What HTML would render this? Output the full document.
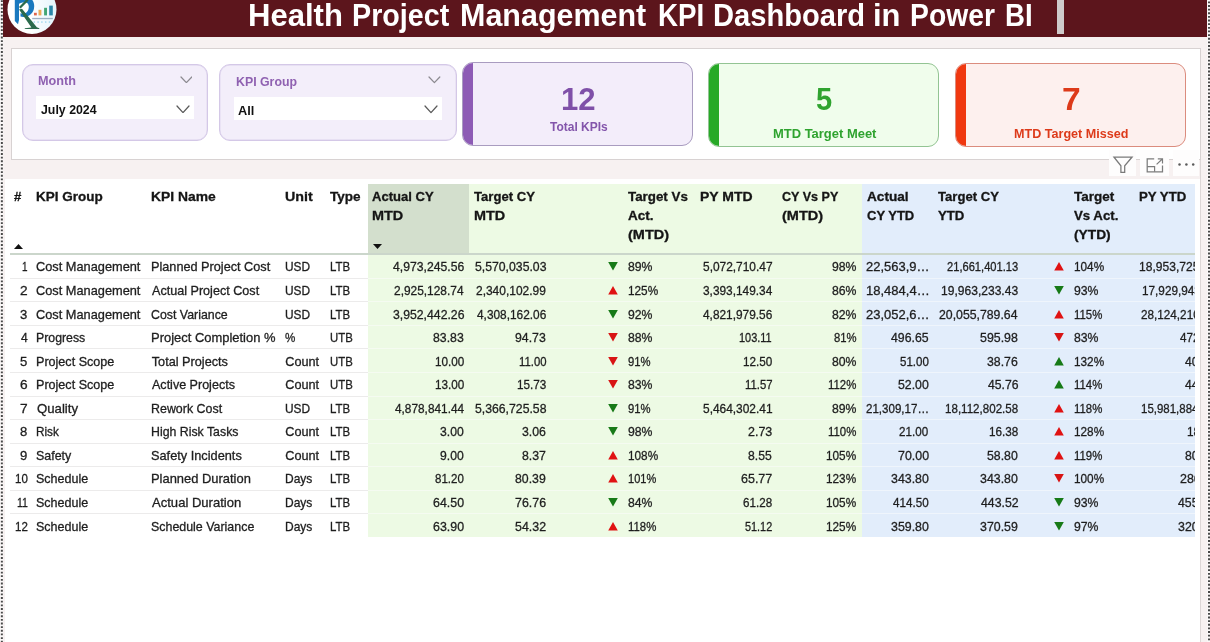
<!DOCTYPE html>
<html lang="en"><head><meta charset="utf-8"><title>Health Project Management KPI Dashboard in Power BI</title>
<style>
html,body{margin:0;padding:0;}
body{width:1210px;height:642px;overflow:hidden;background:#f7f1f1;position:relative;font-family:"Liberation Sans",Arial,sans-serif;color:#222;}
.abs{position:absolute;}
.f{position:absolute;white-space:nowrap;line-height:60px;height:60px;transform-origin:0 50%;}
#hdr{left:3px;top:0;width:1204.4px;height:37.4px;background:#5c151c;}
#caret{left:1057px;top:0;width:7px;height:33.5px;background:#cfcbcb;}
#panel{left:11px;top:48px;width:1189.5px;height:111.5px;background:#fff;border:1px solid #d8d2d2;box-sizing:border-box;}
.slicer{background:#f3eefa;border:1px solid #d4c8e7;box-shadow:inset 0 0 0 .4px #dcd2ec;border-radius:11px;box-sizing:border-box;}
.slicer .inp{position:absolute;background:#fff;}
.card{box-sizing:border-box;border-radius:11px;overflow:hidden;}
.card .bar{position:absolute;left:0;top:0;bottom:0;width:10px;}
#tbl{left:5px;top:179px;width:1195px;height:463px;background:#fff;}
.td{position:absolute;font-size:12.7px;line-height:20px;height:20px;color:#1e1e1e;white-space:nowrap;-webkit-text-stroke:.3px #1e1e1e;}
.hl{position:absolute;left:10px;width:1185px;height:1px;background:#f0eeee;}
</style></head><body>

<svg class="abs" style="left:0;top:0" width="1210" height="642" viewBox="0 0 1210 642"><rect x="0" y="0" width="3.2" height="642" fill="#fbf8f8"/><rect x="1207.4" y="0" width="2.6" height="642" fill="#fbf8f8"/><line x1="1.85" y1="0.15" x2="1.85" y2="642" stroke="#484848" stroke-width="2" stroke-dasharray="1.85 1.79"/><line x1="1209" y1="1.4" x2="1209" y2="642" stroke="#484848" stroke-width="2" stroke-dasharray="1.85 1.79"/></svg>
<div id="hdr" class="abs"></div>
<svg class="abs" style="left:0;top:0" width="70" height="40" viewBox="0 0 70 40">
<defs><linearGradient id="lg" x1="0" y1="0" x2="1" y2="0"><stop offset="0.45" stop-color="#ffffff"/><stop offset="1" stop-color="#e4f4fb"/></linearGradient>
<clipPath id="lc"><circle cx="32" cy="9.4" r="24.5"/></clipPath></defs>
<circle cx="32" cy="9.4" r="24.5" fill="url(#lg)"/>
<g clip-path="url(#lc)">
<path d="M14.8,-2 L19,-2 L19,20 L18,24.2 L14.8,21 Z" fill="#1a79bf"/>
<path d="M17,-4 C26,-6 34.6,-2 34.2,6.5 C34,14.5 27,18 20.5,16.6 L20.5,13.2 C24.5,14.6 28.6,12.5 28.8,7 C29,2 24.5,1.4 20.8,3 L19,3.8 Z" fill="#1a79bf"/>
<path d="M26.8,-1 L28.6,0.6 L20.6,8.4 L19,7 Z" fill="#2c6b4c"/>
<path d="M19,9.6 L22,8.8 L36.8,27.2 L39.3,28.2 L39.3,28.9 L24.8,28.9 L24.8,28.2 L31.4,27.4 Z" fill="#2c6b4c"/>
<rect x="34" y="12.8" width="2.8" height="2.6" fill="#e0664c"/>
<rect x="38.5" y="9.8" width="2.9" height="5.6" fill="#eeaa55"/>
<rect x="44.1" y="7.8" width="2.9" height="7.6" fill="#43a673"/>
<rect x="49.2" y="5.6" width="3.6" height="9.8" fill="#2a86a8"/>
<rect x="32.2" y="17.9" width="20.6" height="1.3" fill="#7f97ad" opacity=".75"/>
<g fill="#9dd6ee"><circle cx="34.3" cy="22" r=".85"/><circle cx="38.1" cy="22" r=".85"/><circle cx="41.9" cy="22" r=".85"/><circle cx="45.7" cy="22" r=".85"/><circle cx="49.5" cy="22" r=".85"/></g>
</g>
</svg>

<div id="caret" class="abs"></div>
<div id="panel" class="abs"></div>
<div class="abs slicer" style="left:22px;top:64px;width:186.3px;height:77.4px"><div class="inp" style="left:13px;top:31.4px;width:158px;height:23px"></div></div>
<svg class="abs" style="left:179.5px;top:75.5px" width="12.8" height="7.6" viewBox="-1 -1 12.8 7.6"><path d="M0,0 L5.4,5.6 L10.8,0" fill="none" stroke="#8c8a90" stroke-width="1.25" stroke-linecap="round" stroke-linejoin="round"/></svg>
<svg class="abs" style="left:175.8px;top:104.6px" width="14" height="8.6" viewBox="-1 -1 14 8.6"><path d="M0,0 L6.0,6.6 L12,0" fill="none" stroke="#5a5a5a" stroke-width="1.25" stroke-linecap="round" stroke-linejoin="round"/></svg>
<div class="abs slicer" style="left:219px;top:64px;width:237.5px;height:77.4px"><div class="inp" style="left:14px;top:32px;width:208px;height:23px"></div></div>
<svg class="abs" style="left:428px;top:76px" width="12.8" height="7.6" viewBox="-1 -1 12.8 7.6"><path d="M0,0 L5.4,5.6 L10.8,0" fill="none" stroke="#8c8a90" stroke-width="1.25" stroke-linecap="round" stroke-linejoin="round"/></svg>
<svg class="abs" style="left:423.8px;top:105.3px" width="14" height="8.6" viewBox="-1 -1 14 8.6"><path d="M0,0 L6.0,6.6 L12,0" fill="none" stroke="#5a5a5a" stroke-width="1.25" stroke-linecap="round" stroke-linejoin="round"/></svg>
<div class="abs card" style="left:462px;top:62px;width:231px;height:83.5px;background:#f3edfa;border:1px solid #a99cc0"><div class="bar" style="background:#8d5bb5"></div></div>
<div class="abs card" style="left:708px;top:63px;width:231px;height:83.5px;background:#f0fdec;border:1px solid #93c493"><div class="bar" style="background:#27a927"></div></div>
<div class="abs card" style="left:954.5px;top:63px;width:231.5px;height:83.5px;background:#fdf0ee;border:1px solid #db8c7e"><div class="bar" style="background:#f03810"></div></div>
<div class="abs" style="left:1109px;top:150px;width:27.4px;height:26px;background:#fefdfd"></div><div class="abs" style="left:1140px;top:150px;width:29px;height:26px;background:#fefdfd"></div><div class="abs" style="left:1172.6px;top:150px;width:26.6px;height:26px;background:#fefdfd"></div>
<svg class="abs" style="left:1100px;top:146px" width="110" height="40" viewBox="0 0 110 40">
<path d="M13.9,11 L32.1,11 L24.7,19.8 L24.7,26.3 L20.9,26.3 L20.9,19.8 Z" fill="none" stroke="#7a7a7a" stroke-width="1.25" stroke-linejoin="miter"/>
<path d="M54.2,12.9 L47.2,12.9 L47.2,25.8 L62.5,25.8 L62.5,19.5" fill="none" stroke="#7c7c7c" stroke-width="1.25"/>
<path d="M47.2,20.6 L54.6,20.6 L54.6,25.8" fill="none" stroke="#7c7c7c" stroke-width="1.2"/>
<path d="M56.6,18.4 L62.3,13 M57.8,12.9 L62.5,12.9 L62.5,17.6" fill="none" stroke="#7c7c7c" stroke-width="1.2"/>
<circle cx="79.5" cy="18.5" r="1.25" fill="#5a5a5a"/><circle cx="86.4" cy="18.5" r="1.25" fill="#5a5a5a"/><circle cx="93.2" cy="18.5" r="1.25" fill="#5a5a5a"/>
</svg>

<div id="tbl" class="abs"></div><div class="abs" style="left:1200px;top:160px;width:1px;height:482px;background:#ddd7d7"></div>
<div class="abs" style="left:367.5px;top:183.5px;width:494.2px;height:353px;background:#edfae4"></div>
<div class="abs" style="left:861.7px;top:183.5px;width:333.3px;height:353px;background:#e2edfb"></div>
<div class="abs" style="left:367.5px;top:183.5px;width:101px;height:71px;background:#d3dfcd"></div>
<div class="abs" style="left:10px;top:253.3px;width:1185px;height:1.8px;background:#cbd6cb"></div>
<div class="hl" style="top:277.8px;left:10px;width:357.5px;background:#ecebeb"></div><div class="hl" style="top:277.8px;left:367.5px;width:494.2px;background:#f5fbf1"></div><div class="hl" style="top:277.8px;left:861.7px;width:333.3px;background:#eff5fc"></div>
<div class="hl" style="top:301.3px;left:10px;width:357.5px;background:#ecebeb"></div><div class="hl" style="top:301.3px;left:367.5px;width:494.2px;background:#f5fbf1"></div><div class="hl" style="top:301.3px;left:861.7px;width:333.3px;background:#eff5fc"></div>
<div class="hl" style="top:324.9px;left:10px;width:357.5px;background:#ecebeb"></div><div class="hl" style="top:324.9px;left:367.5px;width:494.2px;background:#f5fbf1"></div><div class="hl" style="top:324.9px;left:861.7px;width:333.3px;background:#eff5fc"></div>
<div class="hl" style="top:348.4px;left:10px;width:357.5px;background:#ecebeb"></div><div class="hl" style="top:348.4px;left:367.5px;width:494.2px;background:#f5fbf1"></div><div class="hl" style="top:348.4px;left:861.7px;width:333.3px;background:#eff5fc"></div>
<div class="hl" style="top:372.0px;left:10px;width:357.5px;background:#ecebeb"></div><div class="hl" style="top:372.0px;left:367.5px;width:494.2px;background:#f5fbf1"></div><div class="hl" style="top:372.0px;left:861.7px;width:333.3px;background:#eff5fc"></div>
<div class="hl" style="top:395.6px;left:10px;width:357.5px;background:#ecebeb"></div><div class="hl" style="top:395.6px;left:367.5px;width:494.2px;background:#f5fbf1"></div><div class="hl" style="top:395.6px;left:861.7px;width:333.3px;background:#eff5fc"></div>
<div class="hl" style="top:419.1px;left:10px;width:357.5px;background:#ecebeb"></div><div class="hl" style="top:419.1px;left:367.5px;width:494.2px;background:#f5fbf1"></div><div class="hl" style="top:419.1px;left:861.7px;width:333.3px;background:#eff5fc"></div>
<div class="hl" style="top:442.7px;left:10px;width:357.5px;background:#ecebeb"></div><div class="hl" style="top:442.7px;left:367.5px;width:494.2px;background:#f5fbf1"></div><div class="hl" style="top:442.7px;left:861.7px;width:333.3px;background:#eff5fc"></div>
<div class="hl" style="top:466.2px;left:10px;width:357.5px;background:#ecebeb"></div><div class="hl" style="top:466.2px;left:367.5px;width:494.2px;background:#f5fbf1"></div><div class="hl" style="top:466.2px;left:861.7px;width:333.3px;background:#eff5fc"></div>
<div class="hl" style="top:489.8px;left:10px;width:357.5px;background:#ecebeb"></div><div class="hl" style="top:489.8px;left:367.5px;width:494.2px;background:#f5fbf1"></div><div class="hl" style="top:489.8px;left:861.7px;width:333.3px;background:#eff5fc"></div>
<div class="hl" style="top:513.4px;left:10px;width:357.5px;background:#ecebeb"></div><div class="hl" style="top:513.4px;left:367.5px;width:494.2px;background:#f5fbf1"></div><div class="hl" style="top:513.4px;left:861.7px;width:333.3px;background:#eff5fc"></div>
<svg class="abs" style="left:14.3px;top:243.8px" width="9" height="5" viewBox="0 0 9 5"><path d="M0,5 L9,5 L4.5,0 Z" fill="#111"/></svg>
<svg class="abs" style="left:372.5px;top:243.8px" width="9" height="5" viewBox="0 0 9 5"><path d="M0,0 L9,0 L4.5,5 Z" fill="#111"/></svg>
<div class="f" style="left:248.21px;top:-14.00px;font-weight:bold;font-size:31.2px;color:#fff;transform:scaleX(0.9951)">Health</div>
<div class="f" style="left:352.46px;top:-14.00px;font-weight:bold;font-size:31.2px;color:#fff;transform:scaleX(0.9198)">Project</div>
<div class="f" style="left:460.05px;top:-14.00px;font-weight:bold;font-size:31.2px;color:#fff;transform:scaleX(0.9769)">Management</div>
<div class="f" style="left:657.52px;top:-14.00px;font-weight:bold;font-size:31.2px;color:#fff;transform:scaleX(0.8875)">KPI</div>
<div class="f" style="left:712.53px;top:-14.00px;font-weight:bold;font-size:31.2px;color:#fff;transform:scaleX(0.9335)">Dashboard</div>
<div class="f" style="left:872.77px;top:-14.00px;font-weight:bold;font-size:31.2px;color:#fff;transform:scaleX(0.9915)">in</div>
<div class="f" style="left:909.58px;top:-14.00px;font-weight:bold;font-size:31.2px;color:#fff;transform:scaleX(0.9077)">Power</div>
<div class="f" style="left:1004.63px;top:-14.00px;font-weight:bold;font-size:31.2px;color:#fff;transform:scaleX(0.8852)">BI</div>
<div class="f" style="left:38.25px;top:51.00px;font-weight:bold;font-size:13.4px;color:#8f61b1;transform:scaleX(0.9464)">Month</div>
<div class="f" style="left:235.50px;top:52.00px;font-weight:bold;font-size:13.7px;color:#8f61b1;transform:scaleX(0.9015)">KPI Group</div>
<div class="f" style="left:40.66px;top:80.00px;font-weight:bold;font-size:12.9px;color:#111;transform:scaleX(0.9576)">July 2024</div>
<div class="f" style="left:238.25px;top:81.00px;font-weight:bold;font-size:12.9px;color:#111;transform:scaleX(0.9902)">All</div>
<div class="f" style="left:561.31px;top:70.00px;font-weight:bold;font-size:31.3px;color:#7f50a8;transform:scaleX(0.9937)">12</div>
<div class="f" style="left:816.17px;top:70.00px;font-weight:bold;font-size:31.3px;color:#2fa32f;transform:scaleX(0.9290)">5</div>
<div class="f" style="left:1061.76px;top:70.00px;font-weight:bold;font-size:31.3px;color:#dd3a1a;transform:scaleX(1.0712)">7</div>
<div class="f" style="left:550.07px;top:97.00px;font-weight:bold;font-size:12.8px;color:#8355ab;transform:scaleX(0.9366)">Total KPIs</div>
<div class="f" style="left:772.94px;top:104.00px;font-weight:bold;font-size:12.8px;color:#2fa32f;transform:scaleX(1.0123)">MTD Target Meet</div>
<div class="f" style="left:1014.16px;top:104.00px;font-weight:bold;font-size:12.8px;color:#dd3a1a;transform:scaleX(0.9830)">MTD Target Missed</div>
<div class="f" style="left:13.74px;top:167.00px;font-weight:bold;font-size:12.9px;color:#151515;-webkit-text-stroke:.3px #151515;transform:scaleX(1.0222)">#</div>
<div class="f" style="left:36.12px;top:167.00px;font-weight:bold;font-size:12.9px;color:#151515;-webkit-text-stroke:.3px #151515;transform:scaleX(1.0464)">KPI Group</div>
<div class="f" style="left:151.09px;top:167.00px;font-weight:bold;font-size:12.9px;color:#151515;-webkit-text-stroke:.3px #151515;transform:scaleX(1.0746)">KPI Name</div>
<div class="f" style="left:284.57px;top:167.00px;font-weight:bold;font-size:12.9px;color:#151515;-webkit-text-stroke:.3px #151515;transform:scaleX(1.1052)">Unit</div>
<div class="f" style="left:330.44px;top:167.00px;font-weight:bold;font-size:12.9px;color:#151515;-webkit-text-stroke:.3px #151515;transform:scaleX(1.0491)">Type</div>
<div class="f" style="left:371.75px;top:167.00px;font-weight:bold;font-size:12.9px;color:#151515;-webkit-text-stroke:.3px #151515;transform:scaleX(1.0124)">Actual CY</div>
<div class="f" style="left:371.76px;top:186.00px;font-weight:bold;font-size:12.9px;color:#151515;-webkit-text-stroke:.3px #151515;transform:scaleX(1.1178)">MTD</div>
<div class="f" style="left:473.75px;top:167.00px;font-weight:bold;font-size:12.9px;color:#151515;-webkit-text-stroke:.3px #151515;transform:scaleX(1.0160)">Target CY</div>
<div class="f" style="left:473.76px;top:186.00px;font-weight:bold;font-size:12.9px;color:#151515;-webkit-text-stroke:.3px #151515;transform:scaleX(1.1178)">MTD</div>
<div class="f" style="left:627.94px;top:167.00px;font-weight:bold;font-size:12.9px;color:#151515;-webkit-text-stroke:.3px #151515;transform:scaleX(1.0351)">Target Vs</div>
<div class="f" style="left:627.74px;top:186.00px;font-weight:bold;font-size:12.9px;color:#151515;-webkit-text-stroke:.3px #151515;transform:scaleX(1.0452)">Act.</div>
<div class="f" style="left:628.16px;top:205.00px;font-weight:bold;font-size:12.9px;color:#151515;-webkit-text-stroke:.3px #151515;transform:scaleX(1.1229)">(MTD)</div>
<div class="f" style="left:700.19px;top:167.00px;font-weight:bold;font-size:12.9px;color:#151515;-webkit-text-stroke:.3px #151515;transform:scaleX(1.0836)">PY MTD</div>
<div class="f" style="left:781.51px;top:167.00px;font-weight:bold;font-size:12.9px;color:#151515;-webkit-text-stroke:.3px #151515;transform:scaleX(0.9737)">CY Vs PY</div>
<div class="f" style="left:781.76px;top:186.00px;font-weight:bold;font-size:12.9px;color:#151515;-webkit-text-stroke:.3px #151515;transform:scaleX(1.1257)">(MTD)</div>
<div class="f" style="left:866.54px;top:167.00px;font-weight:bold;font-size:12.9px;color:#151515;-webkit-text-stroke:.3px #151515;transform:scaleX(1.0562)">Actual</div>
<div class="f" style="left:866.50px;top:186.00px;font-weight:bold;font-size:12.9px;color:#151515;-webkit-text-stroke:.3px #151515;transform:scaleX(1.0098)">CY YTD</div>
<div class="f" style="left:938.15px;top:167.00px;font-weight:bold;font-size:12.9px;color:#151515;-webkit-text-stroke:.3px #151515;transform:scaleX(1.0160)">Target CY</div>
<div class="f" style="left:938.14px;top:186.00px;font-weight:bold;font-size:12.9px;color:#151515;-webkit-text-stroke:.3px #151515;transform:scaleX(1.0240)">YTD</div>
<div class="f" style="left:1073.94px;top:167.00px;font-weight:bold;font-size:12.9px;color:#151515;-webkit-text-stroke:.3px #151515;transform:scaleX(1.0447)">Target</div>
<div class="f" style="left:1073.94px;top:186.00px;font-weight:bold;font-size:12.9px;color:#151515;-webkit-text-stroke:.3px #151515;transform:scaleX(1.0262)">Vs Act.</div>
<div class="f" style="left:1074.10px;top:205.00px;font-weight:bold;font-size:12.9px;color:#151515;-webkit-text-stroke:.3px #151515;transform:scaleX(1.0667)">(YTD)</div>
<div class="f" style="left:1139.03px;top:167.00px;font-weight:bold;font-size:12.9px;color:#151515;-webkit-text-stroke:.3px #151515;transform:scaleX(1.0257)">PY YTD</div>
<div class="f" style="left:21.92px;top:237.00px;font-size:12.7px;color:#1e1e1e;-webkit-text-stroke:.3px #1e1e1e;transform:scaleX(0.7818)">1</div>
<div class="f" style="left:392.96px;top:237.00px;font-size:12.7px;color:#1e1e1e;-webkit-text-stroke:.3px #1e1e1e;transform:scaleX(0.9611)">4,973,245.56</div>
<div class="f" style="left:474.72px;top:237.00px;font-size:12.7px;color:#1e1e1e;-webkit-text-stroke:.3px #1e1e1e;transform:scaleX(0.9644)">5,570,035.03</div>
<div class="f" style="left:628.02px;top:237.00px;font-size:12.7px;color:#1e1e1e;-webkit-text-stroke:.3px #1e1e1e;transform:scaleX(0.9653)">89%</div>
<div class="f" style="left:702.58px;top:237.00px;font-size:12.7px;color:#1e1e1e;-webkit-text-stroke:.3px #1e1e1e;transform:scaleX(0.9390)">5,072,710.47</div>
<div class="f" style="left:831.97px;top:237.00px;font-size:12.7px;color:#1e1e1e;-webkit-text-stroke:.3px #1e1e1e;transform:scaleX(0.9653)">98%</div>
<div class="f" style="left:866.03px;top:237.00px;font-size:12.7px;color:#1e1e1e;-webkit-text-stroke:.3px #1e1e1e;transform:scaleX(1.0218)">22,563,9…</div>
<div class="f" style="left:946.94px;top:237.00px;font-size:12.7px;color:#1e1e1e;-webkit-text-stroke:.3px #1e1e1e;transform:scaleX(0.8777)">21,661,401.13</div>
<div class="f" style="left:1073.57px;top:237.00px;font-size:12.7px;color:#1e1e1e;-webkit-text-stroke:.3px #1e1e1e;transform:scaleX(0.9290)">104%</div>
<div class="f" style="left:19.99px;top:261.00px;font-size:12.7px;color:#1e1e1e;-webkit-text-stroke:.3px #1e1e1e;transform:scaleX(1.0783)">2</div>
<div class="f" style="left:394.35px;top:261.00px;font-size:12.7px;color:#1e1e1e;-webkit-text-stroke:.3px #1e1e1e;transform:scaleX(0.9390)">2,925,128.74</div>
<div class="f" style="left:476.34px;top:261.00px;font-size:12.7px;color:#1e1e1e;-webkit-text-stroke:.3px #1e1e1e;transform:scaleX(0.9423)">2,340,102.99</div>
<div class="f" style="left:627.57px;top:261.00px;font-size:12.7px;color:#1e1e1e;-webkit-text-stroke:.3px #1e1e1e;transform:scaleX(0.9290)">125%</div>
<div class="f" style="left:702.58px;top:261.00px;font-size:12.7px;color:#1e1e1e;-webkit-text-stroke:.3px #1e1e1e;transform:scaleX(0.9358)">3,393,149.34</div>
<div class="f" style="left:831.97px;top:261.00px;font-size:12.7px;color:#1e1e1e;-webkit-text-stroke:.3px #1e1e1e;transform:scaleX(0.9653)">86%</div>
<div class="f" style="left:865.77px;top:261.00px;font-size:12.7px;color:#1e1e1e;-webkit-text-stroke:.3px #1e1e1e;transform:scaleX(1.0262)">18,484,4…</div>
<div class="f" style="left:941.10px;top:261.00px;font-size:12.7px;color:#1e1e1e;-webkit-text-stroke:.3px #1e1e1e;transform:scaleX(0.9503)">19,963,233.43</div>
<div class="f" style="left:1074.02px;top:261.00px;font-size:12.7px;color:#1e1e1e;-webkit-text-stroke:.3px #1e1e1e;transform:scaleX(0.9653)">93%</div>
<div class="f" style="left:20.28px;top:285.00px;font-size:12.7px;color:#1e1e1e;-webkit-text-stroke:.3px #1e1e1e;transform:scaleX(1.0333)">3</div>
<div class="f" style="left:392.72px;top:285.00px;font-size:12.7px;color:#1e1e1e;-webkit-text-stroke:.3px #1e1e1e;transform:scaleX(0.9644)">3,952,442.26</div>
<div class="f" style="left:476.82px;top:285.00px;font-size:12.7px;color:#1e1e1e;-webkit-text-stroke:.3px #1e1e1e;transform:scaleX(0.9358)">4,308,162.06</div>
<div class="f" style="left:628.02px;top:285.00px;font-size:12.7px;color:#1e1e1e;-webkit-text-stroke:.3px #1e1e1e;transform:scaleX(0.9653)">92%</div>
<div class="f" style="left:702.82px;top:285.00px;font-size:12.7px;color:#1e1e1e;-webkit-text-stroke:.3px #1e1e1e;transform:scaleX(0.9358)">4,821,979.56</div>
<div class="f" style="left:831.97px;top:285.00px;font-size:12.7px;color:#1e1e1e;-webkit-text-stroke:.3px #1e1e1e;transform:scaleX(0.9653)">82%</div>
<div class="f" style="left:866.03px;top:285.00px;font-size:12.7px;color:#1e1e1e;-webkit-text-stroke:.3px #1e1e1e;transform:scaleX(1.0218)">23,052,6…</div>
<div class="f" style="left:939.47px;top:285.00px;font-size:12.7px;color:#1e1e1e;-webkit-text-stroke:.3px #1e1e1e;transform:scaleX(0.9675)">20,055,789.64</div>
<div class="f" style="left:1073.60px;top:285.00px;font-size:12.7px;color:#1e1e1e;-webkit-text-stroke:.3px #1e1e1e;transform:scaleX(0.8983)">115%</div>
<div class="f" style="left:20.56px;top:308.00px;font-size:12.7px;color:#1e1e1e;-webkit-text-stroke:.3px #1e1e1e;transform:scaleX(0.9538)">4</div>
<div class="f" style="left:433.32px;top:308.00px;font-size:12.7px;color:#1e1e1e;-webkit-text-stroke:.3px #1e1e1e;transform:scaleX(0.9691)">83.83</div>
<div class="f" style="left:515.32px;top:308.00px;font-size:12.7px;color:#1e1e1e;-webkit-text-stroke:.3px #1e1e1e;transform:scaleX(0.9691)">94.73</div>
<div class="f" style="left:628.02px;top:308.00px;font-size:12.7px;color:#1e1e1e;-webkit-text-stroke:.3px #1e1e1e;transform:scaleX(0.9653)">88%</div>
<div class="f" style="left:739.49px;top:308.00px;font-size:12.7px;color:#1e1e1e;-webkit-text-stroke:.3px #1e1e1e;transform:scaleX(0.8621)">103.11</div>
<div class="f" style="left:833.86px;top:308.00px;font-size:12.7px;color:#1e1e1e;-webkit-text-stroke:.3px #1e1e1e;transform:scaleX(0.8898)">81%</div>
<div class="f" style="left:891.06px;top:308.00px;font-size:12.7px;color:#1e1e1e;-webkit-text-stroke:.3px #1e1e1e;transform:scaleX(0.9684)">496.65</div>
<div class="f" style="left:980.31px;top:308.00px;font-size:12.7px;color:#1e1e1e;-webkit-text-stroke:.3px #1e1e1e;transform:scaleX(0.9748)">595.98</div>
<div class="f" style="left:1074.02px;top:308.00px;font-size:12.7px;color:#1e1e1e;-webkit-text-stroke:.3px #1e1e1e;transform:scaleX(0.9653)">83%</div>
<div class="f" style="left:20.28px;top:332.00px;font-size:12.7px;color:#1e1e1e;-webkit-text-stroke:.3px #1e1e1e;transform:scaleX(1.0333)">5</div>
<div class="f" style="left:434.73px;top:332.00px;font-size:12.7px;color:#1e1e1e;-webkit-text-stroke:.3px #1e1e1e;transform:scaleX(0.9240)">10.00</div>
<div class="f" style="left:518.61px;top:332.00px;font-size:12.7px;color:#1e1e1e;-webkit-text-stroke:.3px #1e1e1e;transform:scaleX(0.8923)">11.00</div>
<div class="f" style="left:628.06px;top:332.00px;font-size:12.7px;color:#1e1e1e;-webkit-text-stroke:.3px #1e1e1e;transform:scaleX(0.8898)">91%</div>
<div class="f" style="left:742.73px;top:332.00px;font-size:12.7px;color:#1e1e1e;-webkit-text-stroke:.3px #1e1e1e;transform:scaleX(0.9240)">12.50</div>
<div class="f" style="left:831.97px;top:332.00px;font-size:12.7px;color:#1e1e1e;-webkit-text-stroke:.3px #1e1e1e;transform:scaleX(0.9653)">80%</div>
<div class="f" style="left:899.70px;top:332.00px;font-size:12.7px;color:#1e1e1e;-webkit-text-stroke:.3px #1e1e1e;transform:scaleX(0.9089)">51.00</div>
<div class="f" style="left:987.32px;top:332.00px;font-size:12.7px;color:#1e1e1e;-webkit-text-stroke:.3px #1e1e1e;transform:scaleX(0.9691)">38.76</div>
<div class="f" style="left:1073.57px;top:332.00px;font-size:12.7px;color:#1e1e1e;-webkit-text-stroke:.3px #1e1e1e;transform:scaleX(0.9290)">132%</div>
<div class="f" style="left:19.99px;top:355.00px;font-size:12.7px;color:#1e1e1e;-webkit-text-stroke:.3px #1e1e1e;transform:scaleX(1.0783)">6</div>
<div class="f" style="left:434.73px;top:355.00px;font-size:12.7px;color:#1e1e1e;-webkit-text-stroke:.3px #1e1e1e;transform:scaleX(0.9240)">13.00</div>
<div class="f" style="left:516.73px;top:355.00px;font-size:12.7px;color:#1e1e1e;-webkit-text-stroke:.3px #1e1e1e;transform:scaleX(0.9240)">15.73</div>
<div class="f" style="left:628.02px;top:355.00px;font-size:12.7px;color:#1e1e1e;-webkit-text-stroke:.3px #1e1e1e;transform:scaleX(0.9653)">83%</div>
<div class="f" style="left:744.61px;top:355.00px;font-size:12.7px;color:#1e1e1e;-webkit-text-stroke:.3px #1e1e1e;transform:scaleX(0.8923)">11.57</div>
<div class="f" style="left:828.25px;top:355.00px;font-size:12.7px;color:#1e1e1e;-webkit-text-stroke:.3px #1e1e1e;transform:scaleX(0.8983)">112%</div>
<div class="f" style="left:897.82px;top:355.00px;font-size:12.7px;color:#1e1e1e;-webkit-text-stroke:.3px #1e1e1e;transform:scaleX(0.9691)">52.00</div>
<div class="f" style="left:987.56px;top:355.00px;font-size:12.7px;color:#1e1e1e;-webkit-text-stroke:.3px #1e1e1e;transform:scaleX(0.9613)">45.76</div>
<div class="f" style="left:1073.60px;top:355.00px;font-size:12.7px;color:#1e1e1e;-webkit-text-stroke:.3px #1e1e1e;transform:scaleX(0.8983)">114%</div>
<div class="f" style="left:19.99px;top:379.00px;font-size:12.7px;color:#1e1e1e;-webkit-text-stroke:.3px #1e1e1e;transform:scaleX(1.0783)">7</div>
<div class="f" style="left:394.82px;top:379.00px;font-size:12.7px;color:#1e1e1e;-webkit-text-stroke:.3px #1e1e1e;transform:scaleX(0.9327)">4,878,841.44</div>
<div class="f" style="left:474.72px;top:379.00px;font-size:12.7px;color:#1e1e1e;-webkit-text-stroke:.3px #1e1e1e;transform:scaleX(0.9644)">5,366,725.58</div>
<div class="f" style="left:628.06px;top:379.00px;font-size:12.7px;color:#1e1e1e;-webkit-text-stroke:.3px #1e1e1e;transform:scaleX(0.8898)">91%</div>
<div class="f" style="left:702.58px;top:379.00px;font-size:12.7px;color:#1e1e1e;-webkit-text-stroke:.3px #1e1e1e;transform:scaleX(0.9390)">5,464,302.41</div>
<div class="f" style="left:831.97px;top:379.00px;font-size:12.7px;color:#1e1e1e;-webkit-text-stroke:.3px #1e1e1e;transform:scaleX(0.9653)">89%</div>
<div class="f" style="left:866.12px;top:379.00px;font-size:12.7px;color:#1e1e1e;-webkit-text-stroke:.3px #1e1e1e;transform:scaleX(0.9109)">21,309,17…</div>
<div class="f" style="left:944.84px;top:379.00px;font-size:12.7px;color:#1e1e1e;-webkit-text-stroke:.3px #1e1e1e;transform:scaleX(0.9124)">18,112,802.58</div>
<div class="f" style="left:1073.60px;top:379.00px;font-size:12.7px;color:#1e1e1e;-webkit-text-stroke:.3px #1e1e1e;transform:scaleX(0.8983)">118%</div>
<div class="f" style="left:20.28px;top:402.00px;font-size:12.7px;color:#1e1e1e;-webkit-text-stroke:.3px #1e1e1e;transform:scaleX(1.0333)">8</div>
<div class="f" style="left:440.32px;top:402.00px;font-size:12.7px;color:#1e1e1e;-webkit-text-stroke:.3px #1e1e1e;transform:scaleX(0.9600)">3.00</div>
<div class="f" style="left:522.31px;top:402.00px;font-size:12.7px;color:#1e1e1e;-webkit-text-stroke:.3px #1e1e1e;transform:scaleX(0.9702)">3.06</div>
<div class="f" style="left:628.02px;top:402.00px;font-size:12.7px;color:#1e1e1e;-webkit-text-stroke:.3px #1e1e1e;transform:scaleX(0.9653)">98%</div>
<div class="f" style="left:748.06px;top:402.00px;font-size:12.7px;color:#1e1e1e;-webkit-text-stroke:.3px #1e1e1e;transform:scaleX(0.9806)">2.73</div>
<div class="f" style="left:828.25px;top:402.00px;font-size:12.7px;color:#1e1e1e;-webkit-text-stroke:.3px #1e1e1e;transform:scaleX(0.8983)">110%</div>
<div class="f" style="left:899.46px;top:402.00px;font-size:12.7px;color:#1e1e1e;-webkit-text-stroke:.3px #1e1e1e;transform:scaleX(0.9164)">21.00</div>
<div class="f" style="left:988.73px;top:402.00px;font-size:12.7px;color:#1e1e1e;-webkit-text-stroke:.3px #1e1e1e;transform:scaleX(0.9240)">16.38</div>
<div class="f" style="left:1073.57px;top:402.00px;font-size:12.7px;color:#1e1e1e;-webkit-text-stroke:.3px #1e1e1e;transform:scaleX(0.9290)">128%</div>
<div class="f" style="left:20.28px;top:426.00px;font-size:12.7px;color:#1e1e1e;-webkit-text-stroke:.3px #1e1e1e;transform:scaleX(1.0333)">9</div>
<div class="f" style="left:440.32px;top:426.00px;font-size:12.7px;color:#1e1e1e;-webkit-text-stroke:.3px #1e1e1e;transform:scaleX(0.9600)">9.00</div>
<div class="f" style="left:522.31px;top:426.00px;font-size:12.7px;color:#1e1e1e;-webkit-text-stroke:.3px #1e1e1e;transform:scaleX(0.9702)">8.37</div>
<div class="f" style="left:627.57px;top:426.00px;font-size:12.7px;color:#1e1e1e;-webkit-text-stroke:.3px #1e1e1e;transform:scaleX(0.9290)">108%</div>
<div class="f" style="left:748.32px;top:426.00px;font-size:12.7px;color:#1e1e1e;-webkit-text-stroke:.3px #1e1e1e;transform:scaleX(0.9600)">8.55</div>
<div class="f" style="left:826.37px;top:426.00px;font-size:12.7px;color:#1e1e1e;-webkit-text-stroke:.3px #1e1e1e;transform:scaleX(0.9290)">105%</div>
<div class="f" style="left:897.57px;top:426.00px;font-size:12.7px;color:#1e1e1e;-webkit-text-stroke:.3px #1e1e1e;transform:scaleX(0.9770)">70.00</div>
<div class="f" style="left:987.32px;top:426.00px;font-size:12.7px;color:#1e1e1e;-webkit-text-stroke:.3px #1e1e1e;transform:scaleX(0.9691)">58.80</div>
<div class="f" style="left:1073.60px;top:426.00px;font-size:12.7px;color:#1e1e1e;-webkit-text-stroke:.3px #1e1e1e;transform:scaleX(0.8983)">119%</div>
<div class="f" style="left:14.74px;top:449.00px;font-size:12.7px;color:#1e1e1e;-webkit-text-stroke:.3px #1e1e1e;transform:scaleX(0.9080)">10</div>
<div class="f" style="left:435.20px;top:449.00px;font-size:12.7px;color:#1e1e1e;-webkit-text-stroke:.3px #1e1e1e;transform:scaleX(0.9089)">81.20</div>
<div class="f" style="left:515.32px;top:449.00px;font-size:12.7px;color:#1e1e1e;-webkit-text-stroke:.3px #1e1e1e;transform:scaleX(0.9691)">80.39</div>
<div class="f" style="left:627.63px;top:449.00px;font-size:12.7px;color:#1e1e1e;-webkit-text-stroke:.3px #1e1e1e;transform:scaleX(0.8694)">101%</div>
<div class="f" style="left:741.06px;top:449.00px;font-size:12.7px;color:#1e1e1e;-webkit-text-stroke:.3px #1e1e1e;transform:scaleX(0.9851)">65.77</div>
<div class="f" style="left:826.37px;top:449.00px;font-size:12.7px;color:#1e1e1e;-webkit-text-stroke:.3px #1e1e1e;transform:scaleX(0.9290)">123%</div>
<div class="f" style="left:890.81px;top:449.00px;font-size:12.7px;color:#1e1e1e;-webkit-text-stroke:.3px #1e1e1e;transform:scaleX(0.9748)">343.80</div>
<div class="f" style="left:980.31px;top:449.00px;font-size:12.7px;color:#1e1e1e;-webkit-text-stroke:.3px #1e1e1e;transform:scaleX(0.9748)">343.80</div>
<div class="f" style="left:1073.57px;top:449.00px;font-size:12.7px;color:#1e1e1e;-webkit-text-stroke:.3px #1e1e1e;transform:scaleX(0.9290)">100%</div>
<div class="f" style="left:16.67px;top:473.00px;font-size:12.7px;color:#1e1e1e;-webkit-text-stroke:.3px #1e1e1e;transform:scaleX(0.8261)">11</div>
<div class="f" style="left:433.07px;top:473.00px;font-size:12.7px;color:#1e1e1e;-webkit-text-stroke:.3px #1e1e1e;transform:scaleX(0.9770)">64.50</div>
<div class="f" style="left:515.07px;top:473.00px;font-size:12.7px;color:#1e1e1e;-webkit-text-stroke:.3px #1e1e1e;transform:scaleX(0.9770)">76.76</div>
<div class="f" style="left:628.02px;top:473.00px;font-size:12.7px;color:#1e1e1e;-webkit-text-stroke:.3px #1e1e1e;transform:scaleX(0.9653)">84%</div>
<div class="f" style="left:742.96px;top:473.00px;font-size:12.7px;color:#1e1e1e;-webkit-text-stroke:.3px #1e1e1e;transform:scaleX(0.9164)">61.28</div>
<div class="f" style="left:826.37px;top:473.00px;font-size:12.7px;color:#1e1e1e;-webkit-text-stroke:.3px #1e1e1e;transform:scaleX(0.9290)">105%</div>
<div class="f" style="left:892.92px;top:473.00px;font-size:12.7px;color:#1e1e1e;-webkit-text-stroke:.3px #1e1e1e;transform:scaleX(0.9197)">414.50</div>
<div class="f" style="left:980.56px;top:473.00px;font-size:12.7px;color:#1e1e1e;-webkit-text-stroke:.3px #1e1e1e;transform:scaleX(0.9684)">443.52</div>
<div class="f" style="left:1074.02px;top:473.00px;font-size:12.7px;color:#1e1e1e;-webkit-text-stroke:.3px #1e1e1e;transform:scaleX(0.9653)">93%</div>
<div class="f" style="left:14.74px;top:497.00px;font-size:12.7px;color:#1e1e1e;-webkit-text-stroke:.3px #1e1e1e;transform:scaleX(0.9080)">12</div>
<div class="f" style="left:433.07px;top:497.00px;font-size:12.7px;color:#1e1e1e;-webkit-text-stroke:.3px #1e1e1e;transform:scaleX(0.9770)">63.90</div>
<div class="f" style="left:515.31px;top:497.00px;font-size:12.7px;color:#1e1e1e;-webkit-text-stroke:.3px #1e1e1e;transform:scaleX(0.9770)">54.32</div>
<div class="f" style="left:627.60px;top:497.00px;font-size:12.7px;color:#1e1e1e;-webkit-text-stroke:.3px #1e1e1e;transform:scaleX(0.8983)">118%</div>
<div class="f" style="left:745.07px;top:497.00px;font-size:12.7px;color:#1e1e1e;-webkit-text-stroke:.3px #1e1e1e;transform:scaleX(0.8557)">51.12</div>
<div class="f" style="left:826.37px;top:497.00px;font-size:12.7px;color:#1e1e1e;-webkit-text-stroke:.3px #1e1e1e;transform:scaleX(0.9290)">125%</div>
<div class="f" style="left:890.81px;top:497.00px;font-size:12.7px;color:#1e1e1e;-webkit-text-stroke:.3px #1e1e1e;transform:scaleX(0.9748)">359.80</div>
<div class="f" style="left:980.31px;top:497.00px;font-size:12.7px;color:#1e1e1e;-webkit-text-stroke:.3px #1e1e1e;transform:scaleX(0.9748)">370.59</div>
<div class="f" style="left:1074.02px;top:497.00px;font-size:12.7px;color:#1e1e1e;-webkit-text-stroke:.3px #1e1e1e;transform:scaleX(0.9653)">97%</div>
<div class="f" style="left:36.44px;top:237.00px;font-size:12.7px;color:#1e1e1e;-webkit-text-stroke:.3px #1e1e1e;transform:scaleX(1.0073)">Cost Management</div>
<div class="f" style="left:151.00px;top:237.00px;font-size:12.7px;color:#1e1e1e;-webkit-text-stroke:.3px #1e1e1e;transform:scaleX(1.0000)">Planned Project Cost</div>
<div class="f" style="left:285.06px;top:237.00px;font-size:12.7px;color:#1e1e1e;-webkit-text-stroke:.3px #1e1e1e;transform:scaleX(0.9386)">USD</div>
<div class="f" style="left:329.70px;top:237.00px;font-size:12.7px;color:#1e1e1e;-webkit-text-stroke:.3px #1e1e1e;transform:scaleX(0.9012)">LTB</div>
<div class="f" style="left:36.44px;top:261.00px;font-size:12.7px;color:#1e1e1e;-webkit-text-stroke:.3px #1e1e1e;transform:scaleX(1.0073)">Cost Management</div>
<div class="f" style="left:152.00px;top:261.00px;font-size:12.7px;color:#1e1e1e;-webkit-text-stroke:.3px #1e1e1e;transform:scaleX(0.9930)">Actual Project Cost</div>
<div class="f" style="left:285.06px;top:261.00px;font-size:12.7px;color:#1e1e1e;-webkit-text-stroke:.3px #1e1e1e;transform:scaleX(0.9386)">USD</div>
<div class="f" style="left:329.70px;top:261.00px;font-size:12.7px;color:#1e1e1e;-webkit-text-stroke:.3px #1e1e1e;transform:scaleX(0.9012)">LTB</div>
<div class="f" style="left:36.44px;top:285.00px;font-size:12.7px;color:#1e1e1e;-webkit-text-stroke:.3px #1e1e1e;transform:scaleX(1.0073)">Cost Management</div>
<div class="f" style="left:151.27px;top:285.00px;font-size:12.7px;color:#1e1e1e;-webkit-text-stroke:.3px #1e1e1e;transform:scaleX(0.9742)">Cost Variance</div>
<div class="f" style="left:285.06px;top:285.00px;font-size:12.7px;color:#1e1e1e;-webkit-text-stroke:.3px #1e1e1e;transform:scaleX(0.9386)">USD</div>
<div class="f" style="left:329.70px;top:285.00px;font-size:12.7px;color:#1e1e1e;-webkit-text-stroke:.3px #1e1e1e;transform:scaleX(0.9012)">LTB</div>
<div class="f" style="left:36.23px;top:308.00px;font-size:12.7px;color:#1e1e1e;-webkit-text-stroke:.3px #1e1e1e;transform:scaleX(0.9706)">Progress</div>
<div class="f" style="left:150.98px;top:308.00px;font-size:12.7px;color:#1e1e1e;-webkit-text-stroke:.3px #1e1e1e;transform:scaleX(1.0207)">Project Completion %</div>
<div class="f" style="left:285.14px;top:308.00px;font-size:12.7px;color:#1e1e1e;-webkit-text-stroke:.3px #1e1e1e;transform:scaleX(0.9171)">%</div>
<div class="f" style="left:329.70px;top:308.00px;font-size:12.7px;color:#1e1e1e;-webkit-text-stroke:.3px #1e1e1e;transform:scaleX(0.8968)">UTB</div>
<div class="f" style="left:36.21px;top:332.00px;font-size:12.7px;color:#1e1e1e;-webkit-text-stroke:.3px #1e1e1e;transform:scaleX(0.9910)">Project Scope</div>
<div class="f" style="left:151.75px;top:332.00px;font-size:12.7px;color:#1e1e1e;-webkit-text-stroke:.3px #1e1e1e;transform:scaleX(1.0000)">Total Projects</div>
<div class="f" style="left:285.25px;top:332.00px;font-size:12.7px;color:#1e1e1e;-webkit-text-stroke:.3px #1e1e1e;transform:scaleX(1.0000)">Count</div>
<div class="f" style="left:329.70px;top:332.00px;font-size:12.7px;color:#1e1e1e;-webkit-text-stroke:.3px #1e1e1e;transform:scaleX(0.8968)">UTB</div>
<div class="f" style="left:36.21px;top:355.00px;font-size:12.7px;color:#1e1e1e;-webkit-text-stroke:.3px #1e1e1e;transform:scaleX(0.9910)">Project Scope</div>
<div class="f" style="left:152.00px;top:355.00px;font-size:12.7px;color:#1e1e1e;-webkit-text-stroke:.3px #1e1e1e;transform:scaleX(0.9880)">Active Projects</div>
<div class="f" style="left:285.25px;top:355.00px;font-size:12.7px;color:#1e1e1e;-webkit-text-stroke:.3px #1e1e1e;transform:scaleX(1.0000)">Count</div>
<div class="f" style="left:329.70px;top:355.00px;font-size:12.7px;color:#1e1e1e;-webkit-text-stroke:.3px #1e1e1e;transform:scaleX(0.8968)">UTB</div>
<div class="f" style="left:36.68px;top:379.00px;font-size:12.7px;color:#1e1e1e;-webkit-text-stroke:.3px #1e1e1e;transform:scaleX(1.0400)">Quality</div>
<div class="f" style="left:151.02px;top:379.00px;font-size:12.7px;color:#1e1e1e;-webkit-text-stroke:.3px #1e1e1e;transform:scaleX(0.9790)">Rework Cost</div>
<div class="f" style="left:285.06px;top:379.00px;font-size:12.7px;color:#1e1e1e;-webkit-text-stroke:.3px #1e1e1e;transform:scaleX(0.9386)">USD</div>
<div class="f" style="left:329.70px;top:379.00px;font-size:12.7px;color:#1e1e1e;-webkit-text-stroke:.3px #1e1e1e;transform:scaleX(0.9012)">LTB</div>
<div class="f" style="left:36.27px;top:402.00px;font-size:12.7px;color:#1e1e1e;-webkit-text-stroke:.3px #1e1e1e;transform:scaleX(0.9277)">Risk</div>
<div class="f" style="left:151.03px;top:402.00px;font-size:12.7px;color:#1e1e1e;-webkit-text-stroke:.3px #1e1e1e;transform:scaleX(0.9718)">High Risk Tasks</div>
<div class="f" style="left:285.25px;top:402.00px;font-size:12.7px;color:#1e1e1e;-webkit-text-stroke:.3px #1e1e1e;transform:scaleX(1.0000)">Count</div>
<div class="f" style="left:329.70px;top:402.00px;font-size:12.7px;color:#1e1e1e;-webkit-text-stroke:.3px #1e1e1e;transform:scaleX(0.9012)">LTB</div>
<div class="f" style="left:36.47px;top:426.00px;font-size:12.7px;color:#1e1e1e;-webkit-text-stroke:.3px #1e1e1e;transform:scaleX(0.9800)">Safety</div>
<div class="f" style="left:151.25px;top:426.00px;font-size:12.7px;color:#1e1e1e;-webkit-text-stroke:.3px #1e1e1e;transform:scaleX(1.0056)">Safety Incidents</div>
<div class="f" style="left:285.25px;top:426.00px;font-size:12.7px;color:#1e1e1e;-webkit-text-stroke:.3px #1e1e1e;transform:scaleX(1.0000)">Count</div>
<div class="f" style="left:329.70px;top:426.00px;font-size:12.7px;color:#1e1e1e;-webkit-text-stroke:.3px #1e1e1e;transform:scaleX(0.9012)">LTB</div>
<div class="f" style="left:36.46px;top:449.00px;font-size:12.7px;color:#1e1e1e;-webkit-text-stroke:.3px #1e1e1e;transform:scaleX(0.9864)">Schedule</div>
<div class="f" style="left:150.98px;top:449.00px;font-size:12.7px;color:#1e1e1e;-webkit-text-stroke:.3px #1e1e1e;transform:scaleX(1.0182)">Planned Duration</div>
<div class="f" style="left:285.05px;top:449.00px;font-size:12.7px;color:#1e1e1e;-webkit-text-stroke:.3px #1e1e1e;transform:scaleX(0.9455)">Days</div>
<div class="f" style="left:329.70px;top:449.00px;font-size:12.7px;color:#1e1e1e;-webkit-text-stroke:.3px #1e1e1e;transform:scaleX(0.9012)">LTB</div>
<div class="f" style="left:36.46px;top:473.00px;font-size:12.7px;color:#1e1e1e;-webkit-text-stroke:.3px #1e1e1e;transform:scaleX(0.9864)">Schedule</div>
<div class="f" style="left:152.00px;top:473.00px;font-size:12.7px;color:#1e1e1e;-webkit-text-stroke:.3px #1e1e1e;transform:scaleX(1.0291)">Actual Duration</div>
<div class="f" style="left:285.05px;top:473.00px;font-size:12.7px;color:#1e1e1e;-webkit-text-stroke:.3px #1e1e1e;transform:scaleX(0.9455)">Days</div>
<div class="f" style="left:329.70px;top:473.00px;font-size:12.7px;color:#1e1e1e;-webkit-text-stroke:.3px #1e1e1e;transform:scaleX(0.9012)">LTB</div>
<div class="f" style="left:36.46px;top:497.00px;font-size:12.7px;color:#1e1e1e;-webkit-text-stroke:.3px #1e1e1e;transform:scaleX(0.9864)">Schedule</div>
<div class="f" style="left:151.27px;top:497.00px;font-size:12.7px;color:#1e1e1e;-webkit-text-stroke:.3px #1e1e1e;transform:scaleX(0.9784)">Schedule Variance</div>
<div class="f" style="left:285.05px;top:497.00px;font-size:12.7px;color:#1e1e1e;-webkit-text-stroke:.3px #1e1e1e;transform:scaleX(0.9455)">Days</div>
<div class="f" style="left:329.70px;top:497.00px;font-size:12.7px;color:#1e1e1e;-webkit-text-stroke:.3px #1e1e1e;transform:scaleX(0.9012)">LTB</div>
<div class="abs" style="left:0;top:0;width:1194.8px;height:642px;overflow:hidden">
<div class="f" style="left:1139.45px;top:237.00px;font-size:12.7px;color:#1e1e1e;-webkit-text-stroke:.3px #1e1e1e;transform:scaleX(0.9503)">18,953,725.40</div>
<div class="f" style="left:1142.37px;top:261.00px;font-size:12.7px;color:#1e1e1e;-webkit-text-stroke:.3px #1e1e1e;transform:scaleX(0.9270)">17,929,943.10</div>
<div class="f" style="left:1140.81px;top:285.00px;font-size:12.7px;color:#1e1e1e;-webkit-text-stroke:.3px #1e1e1e;transform:scaleX(0.9241)">28,124,210.55</div>
<div class="f" style="left:1180.37px;top:308.00px;font-size:12.7px;color:#1e1e1e;-webkit-text-stroke:.3px #1e1e1e;transform:scaleX(0.9197)">472.31</div>
<div class="f" style="left:1185.36px;top:332.00px;font-size:12.7px;color:#1e1e1e;-webkit-text-stroke:.3px #1e1e1e;transform:scaleX(0.9613)">40.80</div>
<div class="f" style="left:1185.36px;top:355.00px;font-size:12.7px;color:#1e1e1e;-webkit-text-stroke:.3px #1e1e1e;transform:scaleX(0.9613)">44.20</div>
<div class="f" style="left:1140.60px;top:379.00px;font-size:12.7px;color:#1e1e1e;-webkit-text-stroke:.3px #1e1e1e;transform:scaleX(0.9038)">15,981,884.31</div>
<div class="f" style="left:1186.97px;top:402.00px;font-size:12.7px;color:#1e1e1e;-webkit-text-stroke:.3px #1e1e1e;transform:scaleX(0.9317)">18.27</div>
<div class="f" style="left:1185.12px;top:426.00px;font-size:12.7px;color:#1e1e1e;-webkit-text-stroke:.3px #1e1e1e;transform:scaleX(0.9691)">80.50</div>
<div class="f" style="left:1179.86px;top:449.00px;font-size:12.7px;color:#1e1e1e;-webkit-text-stroke:.3px #1e1e1e;transform:scaleX(0.9813)">286.50</div>
<div class="f" style="left:1178.16px;top:473.00px;font-size:12.7px;color:#1e1e1e;-webkit-text-stroke:.3px #1e1e1e;transform:scaleX(0.9684)">455.40</div>
<div class="f" style="left:1178.31px;top:497.00px;font-size:12.7px;color:#1e1e1e;-webkit-text-stroke:.3px #1e1e1e;transform:scaleX(0.9748)">320.45</div>
</div>
<div class="abs" style="left:0;top:255px;width:1194.8px;height:290px;overflow:hidden">
<svg class="abs" style="left:608px;top:7.4px" width="10" height="8.5" viewBox="0 0 10 8.5"><path d="M0.2,0 L9.8,0 L5,8.6 Z" fill="#177a17"/></svg>
<svg class="abs" style="left:1053.5px;top:7.4px" width="10" height="8.5" viewBox="0 0 10 8.5"><path d="M0.2,8.6 L9.8,8.6 L5,0 Z" fill="#e01212"/></svg>
<svg class="abs" style="left:608px;top:31.4px" width="10" height="8.5" viewBox="0 0 10 8.5"><path d="M0.2,8.6 L9.8,8.6 L5,0 Z" fill="#e01212"/></svg>
<svg class="abs" style="left:1053.5px;top:31.4px" width="10" height="8.5" viewBox="0 0 10 8.5"><path d="M0.2,0 L9.8,0 L5,8.6 Z" fill="#177a17"/></svg>
<svg class="abs" style="left:608px;top:55.4px" width="10" height="8.5" viewBox="0 0 10 8.5"><path d="M0.2,0 L9.8,0 L5,8.6 Z" fill="#177a17"/></svg>
<svg class="abs" style="left:1053.5px;top:55.4px" width="10" height="8.5" viewBox="0 0 10 8.5"><path d="M0.2,8.6 L9.8,8.6 L5,0 Z" fill="#e01212"/></svg>
<svg class="abs" style="left:608px;top:78.4px" width="10" height="8.5" viewBox="0 0 10 8.5"><path d="M0.2,0 L9.8,0 L5,8.6 Z" fill="#d81414"/></svg>
<svg class="abs" style="left:1053.5px;top:78.4px" width="10" height="8.5" viewBox="0 0 10 8.5"><path d="M0.2,0 L9.8,0 L5,8.6 Z" fill="#d81414"/></svg>
<svg class="abs" style="left:608px;top:102.4px" width="10" height="8.5" viewBox="0 0 10 8.5"><path d="M0.2,0 L9.8,0 L5,8.6 Z" fill="#d81414"/></svg>
<svg class="abs" style="left:1053.5px;top:102.4px" width="10" height="8.5" viewBox="0 0 10 8.5"><path d="M0.2,8.6 L9.8,8.6 L5,0 Z" fill="#177a17"/></svg>
<svg class="abs" style="left:608px;top:125.4px" width="10" height="8.5" viewBox="0 0 10 8.5"><path d="M0.2,0 L9.8,0 L5,8.6 Z" fill="#d81414"/></svg>
<svg class="abs" style="left:1053.5px;top:125.4px" width="10" height="8.5" viewBox="0 0 10 8.5"><path d="M0.2,8.6 L9.8,8.6 L5,0 Z" fill="#177a17"/></svg>
<svg class="abs" style="left:608px;top:149.4px" width="10" height="8.5" viewBox="0 0 10 8.5"><path d="M0.2,0 L9.8,0 L5,8.6 Z" fill="#177a17"/></svg>
<svg class="abs" style="left:1053.5px;top:149.4px" width="10" height="8.5" viewBox="0 0 10 8.5"><path d="M0.2,8.6 L9.8,8.6 L5,0 Z" fill="#e01212"/></svg>
<svg class="abs" style="left:608px;top:172.4px" width="10" height="8.5" viewBox="0 0 10 8.5"><path d="M0.2,0 L9.8,0 L5,8.6 Z" fill="#177a17"/></svg>
<svg class="abs" style="left:1053.5px;top:172.4px" width="10" height="8.5" viewBox="0 0 10 8.5"><path d="M0.2,8.6 L9.8,8.6 L5,0 Z" fill="#e01212"/></svg>
<svg class="abs" style="left:608px;top:196.4px" width="10" height="8.5" viewBox="0 0 10 8.5"><path d="M0.2,8.6 L9.8,8.6 L5,0 Z" fill="#e01212"/></svg>
<svg class="abs" style="left:1053.5px;top:196.4px" width="10" height="8.5" viewBox="0 0 10 8.5"><path d="M0.2,8.6 L9.8,8.6 L5,0 Z" fill="#e01212"/></svg>
<svg class="abs" style="left:608px;top:219.4px" width="10" height="8.5" viewBox="0 0 10 8.5"><path d="M0.2,8.6 L9.8,8.6 L5,0 Z" fill="#e01212"/></svg>
<svg class="abs" style="left:1053.5px;top:219.4px" width="10" height="8.5" viewBox="0 0 10 8.5"><path d="M0.2,0 L9.8,0 L5,8.6 Z" fill="#d81414"/></svg>
<svg class="abs" style="left:608px;top:243.4px" width="10" height="8.5" viewBox="0 0 10 8.5"><path d="M0.2,0 L9.8,0 L5,8.6 Z" fill="#177a17"/></svg>
<svg class="abs" style="left:1053.5px;top:243.4px" width="10" height="8.5" viewBox="0 0 10 8.5"><path d="M0.2,0 L9.8,0 L5,8.6 Z" fill="#177a17"/></svg>
<svg class="abs" style="left:608px;top:267.4px" width="10" height="8.5" viewBox="0 0 10 8.5"><path d="M0.2,8.6 L9.8,8.6 L5,0 Z" fill="#e01212"/></svg>
<svg class="abs" style="left:1053.5px;top:267.4px" width="10" height="8.5" viewBox="0 0 10 8.5"><path d="M0.2,0 L9.8,0 L5,8.6 Z" fill="#177a17"/></svg>
</div>
</body></html>
